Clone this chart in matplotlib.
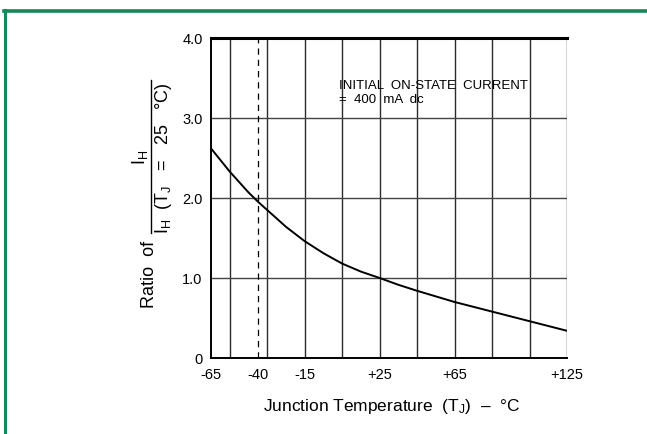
import matplotlib
matplotlib.use("Agg")
import matplotlib.pyplot as plt
from matplotlib.lines import Line2D

plt.rcParams["font.family"] = ["Liberation Sans", "DejaVu Sans"]
plt.rcParams["mathtext.fontset"] = "custom"
plt.rcParams["mathtext.rm"] = "Liberation Sans"
plt.rcParams["mathtext.it"] = "Liberation Sans"

# Holding current ratio vs. junction temperature
temps = [-65, -55, -45, -40, -35, -25, -15, -5, 5, 15, 25, 35, 45, 55, 65,
         75, 85, 95, 105, 115, 125]
ratio = [2.62, 2.33, 2.07, 1.955, 1.85, 1.64, 1.46, 1.31, 1.18, 1.08, 1.0,
         0.915, 0.84, 0.77, 0.70, 0.64, 0.58, 0.52, 0.46, 0.40, 0.34]

x_ticks = [-65, -40, -15, 25, 65, 125]
x_tick_labels = ["-65", "-40", "-15", "+25", "+65", "+125"]
y_ticks = [0, 1, 2, 3, 4]
y_tick_labels = ["0", "1.0", "2.0", "3.0", "4.0"]
grid_x = [-55, -35, -15, 5, 25, 45, 65, 85, 105, 125]
ref_temp = -40

W, H = 647, 434
fig = plt.figure(figsize=(W / 100, H / 100), dpi=100)
fig.patch.set_facecolor("white")


def fx(px):
    return px / W


def fy(py):
    return 1 - py / H


ax = fig.add_axes([fx(211), fy(358), fx(567) - fx(211), fy(38) - fy(358)])
ax.set_xlim(-65, 125)
ax.set_ylim(0, 4)

for g in grid_x:
    ax.axvline(g, color="#2a2a2a", lw=1.0, zorder=1)
for g in [1, 2, 3]:
    ax.axhline(g, color="#444444", lw=1.0, zorder=1)
ax.axvline(ref_temp, color="black", lw=0.9, linestyle=(0, (5, 4)), zorder=2)

ax.plot(temps, ratio, color="black", lw=1.4, zorder=3)

ax.spines["right"].set_visible(False)
ax.spines["top"].set_linewidth(2.2)
ax.spines["left"].set_linewidth(1.4)
ax.spines["bottom"].set_linewidth(1.4)

ax.set_xticks(x_ticks)
ax.set_xticklabels(x_tick_labels, fontsize=10.5)
ax.set_yticks(y_ticks)
ax.set_yticklabels(y_tick_labels, fontsize=10.5)
ax.tick_params(axis="x", length=0, pad=7)
ax.tick_params(axis="y", length=0, pad=6)

ax.text(3.3, 3.47, "INITIAL  ON-STATE  CURRENT\n=  400  mA  dc",
        fontsize=9.5, va="top", ha="left", linespacing=1.2)

fig.text(fx(392), fy(406), "Junction Temperature  (T$_\\mathrm{J}$)  –  °C",
         fontsize=12.5, ha="center", va="center")

# Y-axis label built as "Ratio of" followed by a stacked fraction
fig.text(fx(149), fy(274), "Ratio  of", rotation=90, fontsize=13,
         ha="center", va="center")
fig.add_artist(Line2D([fx(151), fx(151)], [fy(80), fy(233)],
                      color="black", lw=1.0))
fig.text(fx(140), fy(157), "I$_\\mathrm{H}$", rotation=90, fontsize=13,
         ha="center", va="center")
fig.text(fx(163), fy(158), "I$_\\mathrm{H}$  (T$_\\mathrm{J}$   =   25   °C)",
         rotation=90, fontsize=13, ha="center", va="center")

# Green frame along the top and left edges
frame = "#13895a"
fig.add_artist(Line2D([fx(4), fx(W)], [fy(10.5), fy(10.5)], color=frame, lw=2.6))
fig.add_artist(Line2D([fx(5), fx(5)], [fy(9.5), fy(H)], color=frame, lw=2.2))

fig.savefig("out.png", dpi=100)
